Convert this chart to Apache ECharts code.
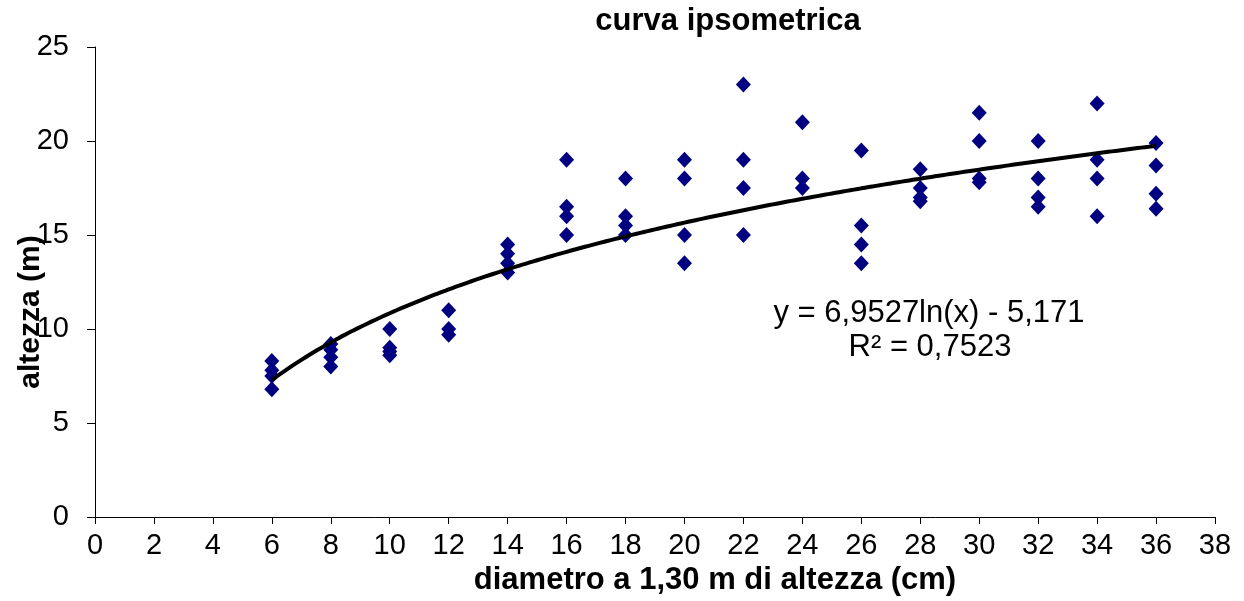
<!DOCTYPE html>
<html>
<head>
<meta charset="utf-8">
<script src="https://cdn.jsdelivr.net/npm/echarts@6/dist/echarts.min.js"></script>
<style>
    html, body { margin: 0; padding: 0; background: #fff; }
    #chart { width: 1244px; height: 601px; }
</style>
</head>
<body>
<div id="chart"></div>
<script>
// diametri (cm) e altezze (m)
var diametri = [6, 8, 10, 12, 14, 16, 18, 20, 22, 24, 26, 28, 30, 32, 34, 36];
var altezze = [
    [8.3, 7.8, 7.5, 6.8],
    [9.2, 8.9, 8.5, 8.0],
    [10.0, 9.0, 8.8, 8.6],
    [11.0, 10.0, 9.7],
    [14.5, 14.0, 13.5, 13.0],
    [19.0, 16.5, 16.0, 15.0],
    [18.0, 16.0, 15.5, 15.0],
    [19.0, 18.0, 15.0, 13.5],
    [23.0, 19.0, 17.5, 15.0],
    [21.0, 18.0, 17.5],
    [19.5, 15.5, 14.5, 13.5],
    [18.5, 17.5, 17.0, 16.8],
    [21.5, 20.0, 18.0, 17.8],
    [20.0, 18.0, 17.0, 16.5],
    [22.0, 19.0, 18.0, 16.0],
    [19.9, 18.7, 17.2, 16.4]
];

// linea di tendenza logaritmica come riportata nel grafico
var coefA = 6.9527;
var coefB = -5.171;
var r2 = '0,7523';

var xTicks = [0, 38, 2];
var yTicks = [0, 25, 5];

var punti = [];
for (var i = 0; i < diametri.length; i++) {
    for (var j = 0; j < altezze[i].length; j++) {
        punti.push([diametri[i], altezze[i][j]]);
    }
}

var tendenza = [];
for (var x = diametri[0]; x <= diametri[diametri.length - 1] + 0.001; x += 0.25) {
    tendenza.push([x, coefA * Math.log(x) + coefB]);
}

var font = '"Liberation Sans", Arial, sans-serif';
var chart = echarts.init(document.getElementById('chart'), null, { renderer: 'canvas' });

chart.setOption({
    animation: false,
    backgroundColor: '#fff',
    grid: { left: 95, right: 29, top: 47, bottom: 84 },
    xAxis: {
        type: 'value',
        min: xTicks[0], max: xTicks[1], interval: xTicks[2],
        axisLine: { show: true, onZero: false, lineStyle: { color: '#000', width: 1 } },
        axisTick: { show: true, inside: false, length: 7, lineStyle: { color: '#000' } },
        axisLabel: { fontFamily: font, fontSize: 29, color: '#000', margin: 14 },
        splitLine: { show: false }
    },
    yAxis: {
        type: 'value',
        min: yTicks[0], max: yTicks[1], interval: yTicks[2],
        axisLine: { show: true, lineStyle: { color: '#000', width: 1 } },
        axisTick: { show: true, inside: false, length: 8, lineStyle: { color: '#000' } },
        axisLabel: { fontFamily: font, fontSize: 29, color: '#000', margin: 26 },
        splitLine: { show: false }
    },
    series: [
        {
            type: 'scatter',
            data: punti,
            symbol: 'diamond',
            symbolSize: [15, 16],
            itemStyle: { color: '#000080', opacity: 1 },
            z: 2
        },
        {
            type: 'line',
            data: tendenza,
            showSymbol: false,
            smooth: true,
            lineStyle: { color: '#000', width: 4 },
            z: 3
        }
    ],
    graphic: [
        {
            type: 'text',
            x: 728,
            y: 21,
            style: {
                text: 'curva ipsometrica',
                font: 'bold 31px ' + font,
                fill: '#000',
                align: 'center',
                verticalAlign: 'middle'
            }
        },
        {
            type: 'text',
            x: 715,
            y: 580,
            style: {
                text: 'diametro a 1,30 m di altezza (cm)',
                font: 'bold 31px ' + font,
                fill: '#000',
                align: 'center',
                verticalAlign: 'middle'
            }
        },
        {
            type: 'text',
            x: 31,
            y: 312,
            rotation: Math.PI / 2,
            style: {
                text: 'altezza (m)',
                font: 'bold 30px ' + font,
                fill: '#000',
                align: 'center',
                verticalAlign: 'middle'
            }
        },
        {
            type: 'text',
            x: 929,
            y: 313,
            style: {
                text: 'y = 6,9527ln(x) - 5,171',
                font: '31px ' + font,
                fill: '#000',
                align: 'center',
                verticalAlign: 'middle'
            }
        },
        {
            type: 'text',
            x: 930,
            y: 347,
            style: {
                text: 'R² = ' + r2,
                font: '31px ' + font,
                fill: '#000',
                align: 'center',
                verticalAlign: 'middle'
            }
        }
    ]
});
</script>
</body>
</html>
